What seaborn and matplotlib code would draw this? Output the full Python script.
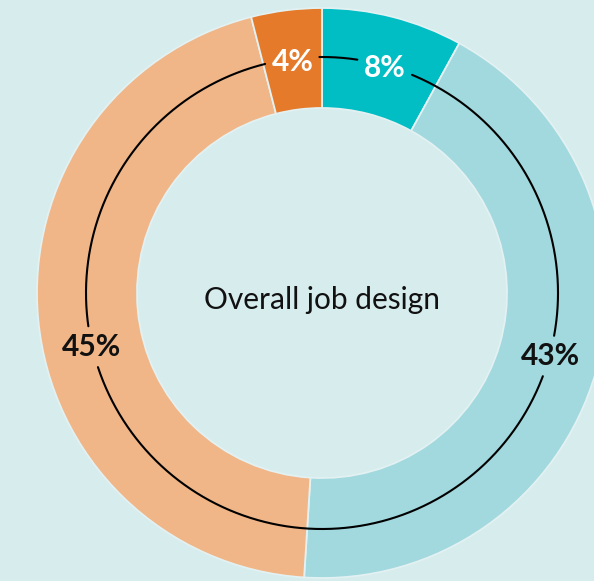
import numpy as np
import matplotlib
matplotlib.use("Agg")
import matplotlib.pyplot as plt
import seaborn as sns

# ---- data ----
categories = ["Segment A", "Segment B", "Segment C", "Segment D"]
values = [8, 43, 45, 4]
labels = ["8%", "43%", "45%", "4%"]
center_title = "Overall job design"

# ---- style ----
bg = "#d6eced"
colors = ["#00bec4", "#a1d9de", "#f0b688", "#e57b2a"]
label_colors = ["white", "#111111", "#111111", "white"]
label_nudge_deg = [1.0, -1.5, -7, 0]

sns.set_theme(style="white")
plt.rcParams["font.family"] = ["Lato", "DejaVu Sans"]

fig = plt.figure(figsize=(5.94, 5.81), dpi=100, facecolor=bg)
ax = fig.add_axes([0, 0, 1, 1])
ax.set_facecolor(bg)

R_out, R_in, R_line = 285, 185, 236
ax.pie(values, colors=colors, radius=R_out, startangle=90, counterclock=False,
       wedgeprops=dict(width=R_out - R_in, edgecolor="#e3f1f2", linewidth=1.3),
       normalize=True)
ax.set_xlim(-322, 594 - 322)
ax.set_ylim(-(581 - 293), 293)
ax.set_aspect("equal")
ax.axis("off")

# labels along the circle
total = sum(values)
cum = np.cumsum([0] + values[:-1])
texts = []
for v, c, lab, col, nd in zip(values, cum, labels, label_colors, label_nudge_deg):
    ang = np.deg2rad(90 - (c + v / 2) / total * 360 - nd)
    t = ax.text(R_line * np.cos(ang), R_line * np.sin(ang) - 3, lab, ha="center", va="center",
                fontsize=21.5, fontweight="bold", color=col, zorder=5)
    texts.append(t)

ax.text(0, -7, center_title, ha="center", va="center", fontsize=21.5, color="#111111")

fig.canvas.draw()
renderer = fig.canvas.get_renderer()
theta = np.linspace(0, 2 * np.pi, 3000)
xs = R_line * np.cos(theta)
ys = R_line * np.sin(theta)
mask = np.zeros_like(xs, dtype=bool)
inv = ax.transData.inverted()
for t in texts:
    bb = t.get_window_extent(renderer)
    (x0, y0), (x1, y1) = inv.transform([[bb.x0, bb.y0], [bb.x1, bb.y1]])
    pad = 6
    mask |= (xs > x0 - pad) & (xs < x1 + pad) & (ys > y0 - pad) & (ys < y1 + pad)
xs = np.where(mask, np.nan, xs)
ys = np.where(mask, np.nan, ys)
ax.plot(xs, ys, color="black", lw=1.5, zorder=4)

fig.savefig("out.png", dpi=100, facecolor=bg)
